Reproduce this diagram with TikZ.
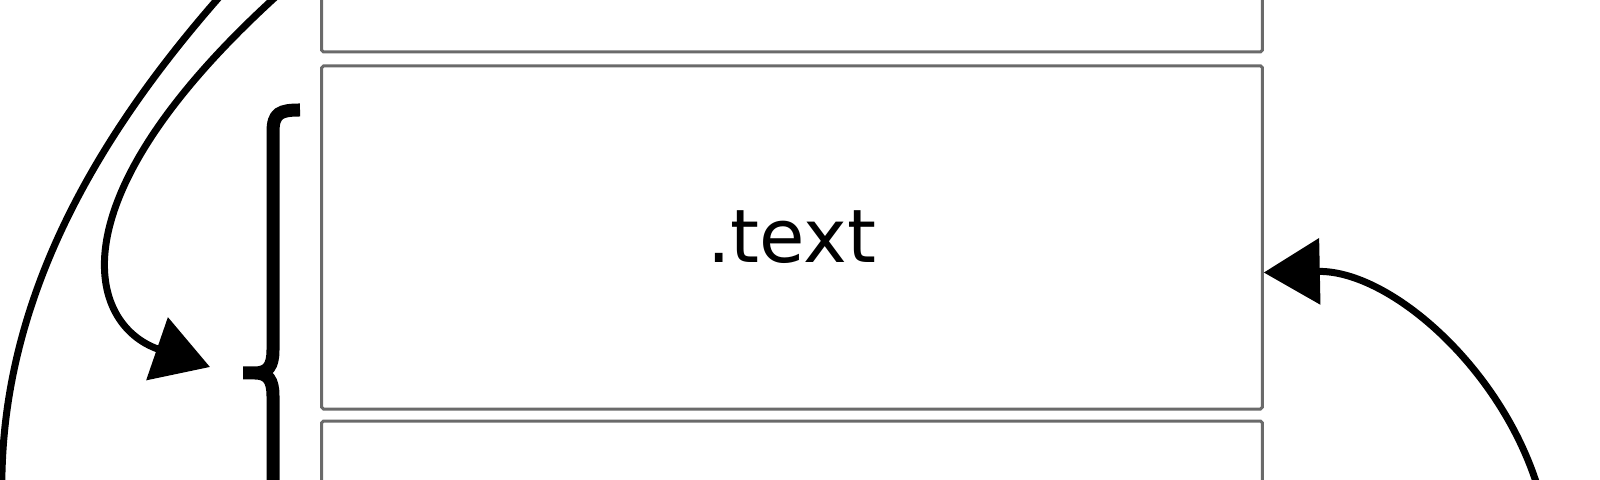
\documentclass[tikz,border=0pt]{standalone}
\usepackage{fontspec}
\setmainfont{DejaVu Sans}
\usetikzlibrary{arrows.meta, positioning}
\definecolor{Frame}{HTML}{6A6A6A}

\begin{document}
\begin{tikzpicture}[x=0.01cm, y=-0.01cm,
  section/.style={draw=Frame, line width=0.3mm, rounded corners=0.5pt,
                  minimum width=9.4cm, minimum height=3.43cm, inner sep=0pt,
                  font=\fontsize{21}{25}\selectfont},
  link/.style={line width=0.7mm, -{Triangle[length=5.6mm, width=6.5mm]}},
  plain/.style={line width=0.7mm}]
  \useasboundingbox (0,0) rectangle (1600,480);

  % memory sections
  \node[section] (text) at (792,237.5) {.text};
  \node[section, above=0.11cm of text] (upper) {};
  \node[section, below=0.09cm of text] (lower) {};

  % brace round the section
  \draw[line width=1.3mm]
    (300,110) .. controls (280,110) and (273,113) .. (273,132) -- (273,350)
    .. controls (273,366) and (268,373) .. (255,373) -- (243,373)
    -- (255,373) .. controls (268,373) and (273,380) .. (273,396) -- (273,614)
    .. controls (273,633) and (280,636) .. (300,636);
  \coordinate (braceTip) at (210,367);

  % ends off the picture
  \coordinate (srcA) at (281,-8);
  \coordinate (srcB) at (230,-15);
  \coordinate (dstB) at (2,500);
  \coordinate (srcC) at (1540,495);

  \draw[link] (srcA) .. controls (50,200) and (88,325) .. (braceTip);
  \draw[plain] (srcB) .. controls (100,130) and (-3,300) .. (dstB);
  \draw[link] (srcC) .. controls (1505,370) and (1390,270) .. ([yshift=-0.35cm]text.east);
\end{tikzpicture}
\end{document}
